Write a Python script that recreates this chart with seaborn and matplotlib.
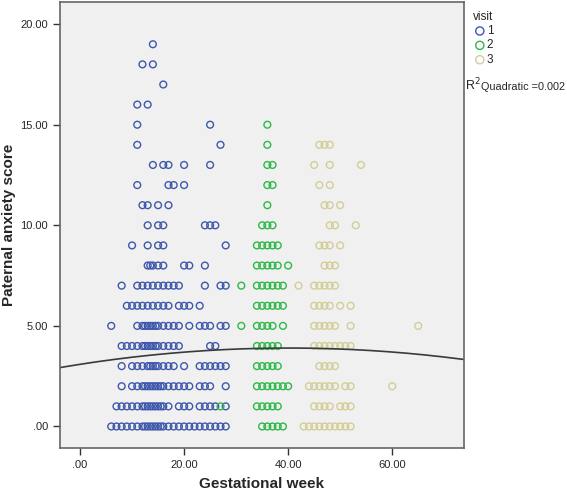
import numpy as np
import pandas as pd
import matplotlib.pyplot as plt
import seaborn as sns

# gestational weeks of the points on each anxiety score row, one table per visit
visit1 = {
    19: [14],
    18: [12, 14],
    17: [16],
    16: [11, 13],
    15: [11, 25],
    14: [11, 27],
    13: [14, 16, 17, 20, 25],
    12: [11, 17, 18, 20],
    11: [12, 13, 15, 17],
    10: [13, 15, 16, 24, 25, 26],
    9: [10, 13, 15, 16, 28],
    8: [13, 13.5, 14, 15, 16, 20, 21, 24],
    7: [8, 11, 12, 13, 14, 15, 16, 17, 18, 19, 24, 27, 28],
    6: [9, 10, 11, 12, 13, 14, 15, 16, 17, 19, 20, 21, 23],
    5: [6, 11, 12, 12.5, 13, 13.5, 14, 14.5, 15, 16, 17, 18, 19, 21, 23, 24, 25, 27, 28],
    4: [8, 9, 10, 11, 12, 12.5, 13, 13.5, 14, 14.5, 15, 16, 17, 18, 19, 25, 26],
    3: [8, 10, 11, 12, 13, 13.5, 14, 14.5, 15, 16, 17, 18, 20, 23, 24, 25, 26, 27, 28],
    2: [8, 10, 11, 12, 12.5, 13, 13.5, 14, 14.5, 15, 15.5, 16, 17, 18, 19, 20, 21, 23, 24, 25, 28],
    1: [7, 8, 9, 10, 11, 12, 12.5, 13, 13.5, 14, 14.5, 15, 15.5, 16, 17, 19, 20, 21, 23, 24, 25,
        26, 28],
    0: [6, 7, 8, 9, 10, 11, 12, 12.5, 13, 13.5, 14, 14.5, 15, 15.5, 16, 17, 18, 19, 20, 21, 22,
        23, 24, 25, 26, 27, 28],
}
visit2 = {
    15: [36],
    14: [36],
    13: [36, 37],
    12: [36, 37],
    11: [36],
    10: [35, 36, 37],
    9: [34, 35, 36, 37, 38],
    8: [34, 35, 36, 37, 38, 40],
    7: [31, 34, 35, 36, 37, 38, 39],
    6: [34, 35, 36, 37, 38, 39],
    5: [31, 34, 35, 36, 37, 39],
    4: [34, 35, 36, 37, 38],
    3: [34, 35, 36, 37, 38],
    2: [34, 35, 36, 37, 38, 39, 40],
    1: [27, 34, 35, 36, 37, 38],
    0: [35, 36, 37, 38, 39],
}
visit3 = {
    14: [46, 47, 48],
    13: [45, 48, 54],
    12: [46, 48],
    11: [47, 48, 50],
    10: [48, 49, 53],
    9: [46, 47, 48, 50],
    8: [47, 48, 49],
    7: [42, 45, 46, 47, 48, 49],
    6: [45, 46, 47, 48, 50, 52],
    5: [45, 46, 47, 48, 49, 52, 65],
    4: [45, 46, 47, 48, 49, 50, 51, 52],
    3: [46, 47, 48, 49],
    2: [44, 45, 46, 47, 48, 49, 51, 52, 60],
    1: [45, 46, 47, 48, 50, 51, 52],
    0: [43, 44, 45, 46, 47, 48, 49, 50, 51, 52],
}
visits = [1, 2, 3]
visit_colors = ["#3E58AC", "#2EB848", "#D3CE97"]
# quadratic fit line (total), coefficients: c0 + c1*x + c2*x^2
fit_coef = [3.09, 0.0403, -0.000502]
r2_value = "0.002"
x_ticks = [0, 20, 40, 60]
x_ticklabels = [".00", "20.00", "40.00", "60.00"]
y_ticks = [0, 5, 10, 15, 20]
y_ticklabels = [".00", "5.00", "10.00", "15.00", "20.00"]

rows = []
for visit, table in zip(visits, [visit1, visit2, visit3]):
    for score, weeks in table.items():
        for w in weeks:
            rows.append({"week": w, "score": score, "visit": visit})
df = pd.DataFrame(rows)

sns.set_style("ticks")
plt.rcParams["font.family"] = ["Liberation Sans", "DejaVu Sans"]

fig = plt.figure(figsize=(5.67, 4.93), dpi=100)
ax = fig.add_axes([60 / 567, 1 - 448 / 493, 404 / 567, 446 / 493])
ax.set_facecolor("#F0F0F0")
ax.set_xlim(-3.85, 73.8)
ax.set_ylim(-1.07, 21.1)

for visit, color in zip(visits, visit_colors):
    sns.scatterplot(data=df[df["visit"] == visit], x="week", y="score",
                    facecolor="none", edgecolor=color, s=24, linewidth=1.0,
                    label=str(visit), ax=ax)

fit_x = np.linspace(-3.85, 73.8, 200)
fit_y = np.polyval(fit_coef[::-1], fit_x)
sns.lineplot(x=fit_x, y=fit_y, color="#3a3a3a", linewidth=1.2, ax=ax)

ax.set_xticks(x_ticks)
ax.set_xticklabels(x_ticklabels, fontsize=8)
ax.set_yticks(y_ticks)
ax.set_yticklabels(y_ticklabels, fontsize=8)
ax.tick_params(length=5, width=1, color="#333333")
for sp in ax.spines.values():
    sp.set_color("#666666")
    sp.set_linewidth(1.2)

ax.set_xlabel("Gestational week", fontsize=11, fontweight="bold", labelpad=5)
ax.set_ylabel("Paternal anxiety score", fontsize=11, fontweight="bold", labelpad=3)

ax.legend(title="visit", loc="upper left", bbox_to_anchor=(468 / 567, 1 - 6 / 493),
          bbox_transform=fig.transFigure, frameon=False, fontsize=8.5,
          title_fontsize=8.5, handletextpad=0.0, labelspacing=0.2, markerscale=1.2,
          borderaxespad=0, handlelength=1.2, alignment="left")

fig.text(465 / 567, 1 - 90 / 493, "R$^2$", fontsize=9)
fig.text(481 / 567, 1 - 90 / 493, "Quadratic =" + r2_value, fontsize=7.8)

fig.savefig("out.png", dpi=100)
